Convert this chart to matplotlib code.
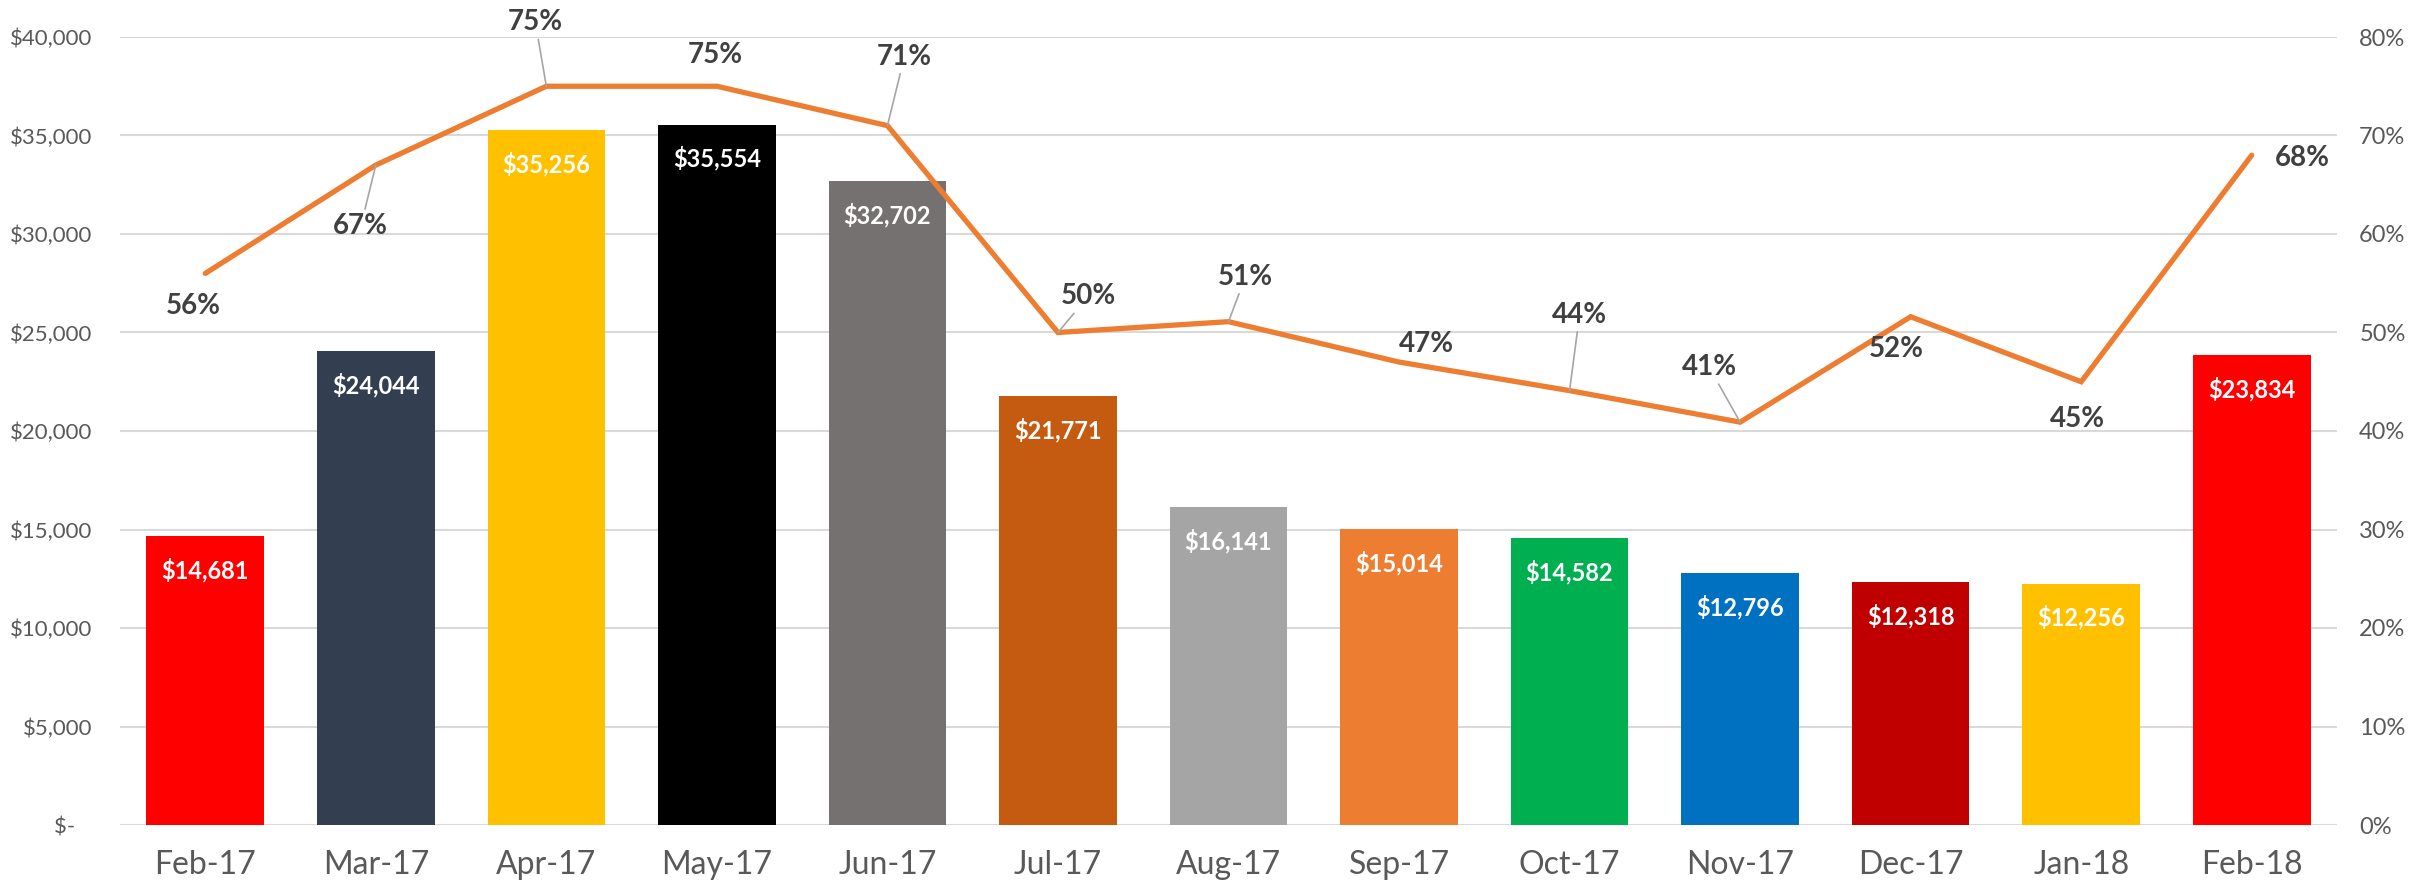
import numpy as np
from matplotlib import pyplot as plt
from matplotlib.ticker import FuncFormatter

#%%# data #%%#
months = ['Feb-17', 'Mar-17', 'Apr-17', 'May-17', 'Jun-17', 'Jul-17', 'Aug-17',
          'Sep-17', 'Oct-17', 'Nov-17', 'Dec-17', 'Jan-18', 'Feb-18']
sales = [14681, 24044, 35256, 35554, 32702, 21771, 16141,
         15014, 14582, 12796, 12318, 12256, 23834]
pct = [0.56, 0.67, 0.75, 0.75, 0.71, 0.50, 0.511,
       0.47, 0.441, 0.409, 0.516, 0.45, 0.68]
barColors = ['#FF0000', '#333F50', '#FFC000', '#000000', '#767171', '#C55A11', '#A5A5A5',
             '#ED7D31', '#00B050', '#0070C0', '#C00000', '#FFC000', '#FF0000']
leftTicks = [0, 5000, 10000, 15000, 20000, 25000, 30000, 35000, 40000]
rightTicks = [0, 0.1, 0.2, 0.3, 0.4, 0.5, 0.6, 0.7, 0.8]

# label offsets (pixels) and whether a leader line is drawn
pctOffsets = [(-12, -33), (-15, -61), (-11, 64), (-2, 31), (17, 69), (30, 36), (17, 45),
              (27, 18), (10, 76), (-31, 55), (-14, -32), (-4, -37), (51, -3)]
leaders = [False, True, True, False, True, True, True,
           False, True, True, False, False, False]

plt.rcParams['font.family'] = ['Lato', 'DejaVu Sans']

fig = plt.figure(figsize=(24.25, 8.92), dpi=100)
ax = fig.add_axes([120/2425, 1-825/892, 2217/2425, 788/892])
ax2 = ax.twinx()

x = np.arange(len(months))
ax.bar(x, sales, width=0.69, color=barColors, zorder=2)
ax.set_xlim(-0.5, len(months)-0.5)
ax.set_ylim(0, 40000)
ax.set_yticks(leftTicks)
ax.yaxis.set_major_formatter(FuncFormatter(lambda v, p: '$-   ' if v == 0 else f'${v:,.0f}'))
ax.set_xticks(x)
ax.set_xticklabels(months)
ax.grid(axis='y', color='#D9D9D9', linewidth=1.5, zorder=0)
ax.set_axisbelow(True)
for s in ax.spines.values(): s.set_visible(False)
for s in ax2.spines.values(): s.set_visible(False)
ax.tick_params(axis='y', length=0, pad=20, labelsize=16, labelcolor='#595959')
ax.tick_params(axis='x', length=0, pad=18, labelsize=23, labelcolor='#595959')

for i in range(len(months)):
    ax.annotate(f'${sales[i]:,}', (x[i], sales[i]), xytext=(0, -34), textcoords='offset pixels',
                ha='center', va='center', color='white', fontsize=17, fontweight='bold', zorder=3)

ax2.plot(x, pct, color='#ED7D31', linewidth=3.8, solid_capstyle='round', solid_joinstyle='miter', zorder=4)
ax2.set_ylim(0, 0.8)
ax2.set_yticks(rightTicks)
ax2.yaxis.set_major_formatter(FuncFormatter(lambda v, p: f'{v:.0%}'))
ax2.tick_params(axis='y', length=0, pad=16, labelsize=17, labelcolor='#595959')

for i in range(len(months)):
    arrow = dict(arrowstyle='-', color='#A6A6A6', linewidth=1.2, shrinkA=1, shrinkB=0) if leaders[i] else None
    ax2.annotate(f'{pct[i]:.0%}', (x[i], pct[i]), xytext=pctOffsets[i], textcoords='offset pixels',
                 ha='center', va='center', color='#404040', fontsize=20, fontweight='bold',
                 arrowprops=arrow, zorder=5)

plt.savefig('out.png', dpi=100)
